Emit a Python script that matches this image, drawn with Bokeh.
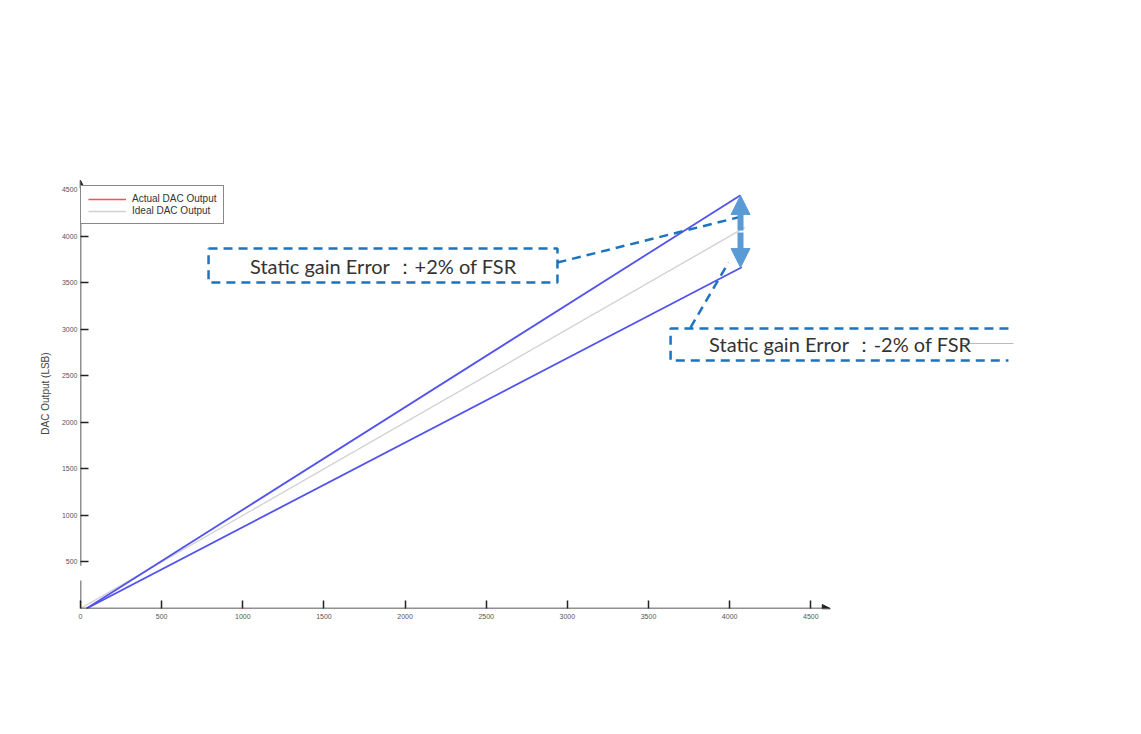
from bokeh.plotting import figure
from bokeh.models import (FixedTicker, Label, Arrow, NormalHead, Legend, LegendItem, Range1d)
from bokeh.embed import file_html
from bokeh.resources import INLINE

# ---------------- data ----------------
x_ticks = [0, 500, 1000, 1500, 2000, 2500, 3000, 3500, 4000, 4500]
y_ticks = [500, 1000, 1500, 2000, 2500, 3000, 3500, 4000, 4500]

ideal_x = [0, 4095]
ideal_y = [0, 4095]
upper_x = [37, 4067]      # actual output, +gain error
upper_y = [0, 4441]
lower_x = [37, 4075]      # actual output, -gain error
lower_y = [0, 3667]
actual_x = [0]            # legend-only entry (hidden under the other traces)
actual_y = [0]

label_plus = "Static gain Error \uff1a+2% of FSR"
label_minus = "Static gain Error \uff1a-2% of FSR"

# ---------------- figure ----------------
X_END = 6470
Y_END = 4620
p = figure(width=1133, height=718, output_backend="svg", toolbar_location=None,
           x_range=Range1d(0, X_END), y_range=Range1d(0, Y_END),
           min_border_left=80, min_border_right=3, min_border_top=178, min_border_bottom=110)
p.outline_line_color = None
p.grid.grid_line_color = None
p.background_fill_color = "white"

for ax in (p.xaxis, p.yaxis):
    ax.axis_line_color = None
    ax.major_tick_in = 8
    ax.major_tick_out = 0
    ax.minor_tick_line_color = None
    ax.major_tick_line_color = "#222222"
    ax.major_tick_line_width = 1.5
    ax.major_label_text_font = "Liberation Sans"
    ax.major_label_text_font_size = "7px"
    ax.major_label_text_color = "#555555"
p.xaxis.ticker = FixedTicker(ticks=x_ticks)
p.yaxis.ticker = FixedTicker(ticks=y_ticks)
p.xaxis.major_label_standoff = 5
p.yaxis.major_label_standoff = 3
p.yaxis.axis_label = "DAC Output (LSB)"
p.yaxis.axis_label_text_font = "Liberation Sans"
p.yaxis.axis_label_text_font_size = "10px"
p.yaxis.axis_label_text_font_style = "normal"
p.yaxis.axis_label_text_color = "#444444"
p.yaxis.axis_label_standoff = 8

p.add_layout(Label(x=2250, y=0, y_offset=-23, text="Programmed DACVAL (LSB)",
                   text_align="center", text_baseline="middle",
                   text_font="Liberation Sans", text_font_size="10px", text_color="#444444"))

# axis lines with arrows
p.add_layout(Arrow(x_start=0, y_start=0, x_end=4620, y_end=0, line_color="#222222", line_width=1.5,
                   end=NormalHead(size=8, fill_color="#222222", line_color="#222222")))
p.segment(x0=[0], y0=[0], x1=[0], y1=[300], line_color="#222222", line_width=1.5)
p.add_layout(Arrow(x_start=0, y_start=460, x_end=0, y_end=4600, line_color="#222222", line_width=1.5,
                   end=NormalHead(size=8, fill_color="#222222", line_color="#222222")))

# lines
r_actual = p.line(actual_x, actual_y, line_color="#ff4d4d", line_width=1.3)
r_ideal = p.line(ideal_x, ideal_y, line_color="#d0d0d0", line_width=1.3)
p.line(upper_x, upper_y, line_color="#5252ee", line_width=1.8)
p.line(lower_x, lower_y, line_color="#5252ee", line_width=1.8)

legend = Legend(items=[LegendItem(label="Actual DAC Output", renderers=[r_actual]),
                       LegendItem(label="Ideal DAC Output", renderers=[r_ideal])],
                location=(0, 384), orientation="vertical",
                label_text_font="Liberation Sans", label_text_font_size="10px",
                label_text_color="#333333", glyph_width=38, glyph_height=10,
                label_height=10, spacing=1, padding=7, margin=0, label_standoff=6,
                border_line_color="#111111", border_line_width=1.5,
                background_fill_color="white", background_fill_alpha=1)
p.add_layout(legend)

# ---------------- annotations ----------------
DASH_C = "#1e73be"
# box 1 (+2%)
b1 = dict(l=789, r=2939, t=3868, b=3503)
p.multi_line(xs=[[b1["l"], b1["r"], b1["r"], b1["l"], b1["l"]]],
             ys=[[b1["t"], b1["t"], b1["b"], b1["b"], b1["t"]]],
             line_color=DASH_C, line_width=2.5, line_dash="9 6")
# box 2 (-2%), open on right
b2 = dict(l=3636, r=5718, t=3008, b=2665)
p.multi_line(xs=[[b2["r"], b2["l"], b2["l"], b2["r"]]],
             ys=[[b2["t"], b2["t"], b2["b"], b2["b"]]],
             line_color=DASH_C, line_width=2.5, line_dash="9 6")
# connectors
p.multi_line(xs=[[2939, 4098], [3759, 3993]], ys=[[3717, 4222], [3019, 3717]],
             line_color=DASH_C, line_width=2.5, line_dash="9 6")
# thin grey line by the second label
p.line([5422, 5749], [2847, 2847], line_color="#bbbbbb", line_width=1)

p.add_layout(Label(x=1867, y=3685, text=label_plus, text_align="center", text_baseline="middle",
                   text_font="Lato", text_font_size="20px", text_color="#333333"))
p.add_layout(Label(x=4683, y=2846, text=label_minus, text_align="center", text_baseline="middle",
                   text_font="Lato", text_font_size="20px", text_color="#333333"))

# double arrows
ARW = "#5b9bd5"
p.add_layout(Arrow(x_start=4067, y_start=4061, x_end=4067, y_end=4437, line_color=ARW, line_width=6,
                   end=NormalHead(size=19, fill_color=ARW, line_color=ARW)))
p.add_layout(Arrow(x_start=4067, y_start=4040, x_end=4067, y_end=3664, line_color=ARW, line_width=6,
                   end=NormalHead(size=19, fill_color=ARW, line_color=ARW)))

open("out.html", "w").write(file_html(p, INLINE))
